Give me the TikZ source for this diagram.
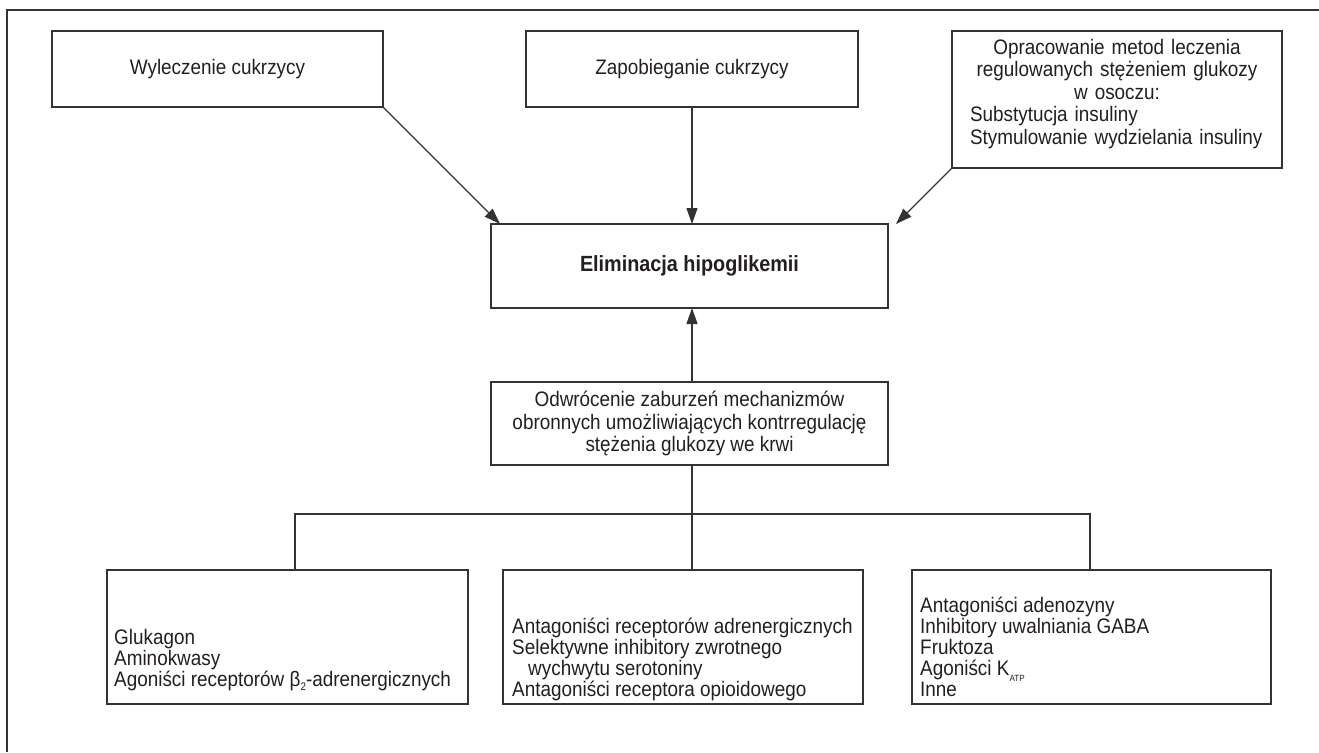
\documentclass[tikz,border=0pt]{standalone}
\usepackage{fontspec}
\setmainfont[FakeStretch=0.9]{Liberation Sans}
\usetikzlibrary{arrows.meta,calc}
\definecolor{linec}{HTML}{333333}
\definecolor{txtc}{HTML}{231F20}
\newcommand{\subsmall}[1]{\raisebox{-4.5pt}{\fontsize{11}{11}\selectfont #1}}
\newcommand{\subtiny}[1]{\raisebox{-5.5pt}{\fontsize{9}{9}\selectfont #1}}
\begin{document}
\begin{tikzpicture}[x=1pt,y=-1pt,
  boxnode/.style={draw=linec,line width=1.2pt,inner sep=0pt,outer sep=0pt,
    font=\fontsize{21}{22.5}\selectfont,text=txtc},
  txt/.style={font=\fontsize{21}{22.5}\selectfont,text=txtc,inner sep=0pt},
  btxt/.style={txt,font=\fontsize{21}{21}\selectfont,align=left,anchor=west},
  conn/.style={draw=linec,line width=1.2pt},
  arr/.style={conn,-{Triangle[length=16pt,width=11pt]}}]
\useasboundingbox (0,0) rectangle (1319,752);
\fill[white] (0,0) rectangle (1319,752);
% frame
\draw[conn] (7,752) -- (7,10) -- (1319,10);
% top boxes
\node[boxnode,minimum width=331pt,minimum height=76pt] (b1) at (217.5,69) {Wyleczenie cukrzycy};
\node[boxnode,minimum width=332pt,minimum height=76pt] (b2) at (692,69) {Zapobieganie cukrzycy};
\node[boxnode,minimum width=330pt,minimum height=137pt] (b3) at (1117,99.5) {};
\node[txt,align=left,text width=294pt] (t3) at (1117,94) {%
\makebox[294pt]{Opracowanie metod leczenia}\\
\makebox[294pt]{regulowanych stężeniem glukozy}\\
\makebox[294pt]{w osoczu:}\\
Substytucja insuliny\\
Stymulowanie wydzielania insuliny};
% central boxes
\node[boxnode,minimum width=397pt,minimum height=84pt,font=\fontsize{22}{22.5}\selectfont\bfseries] (elim) at (689.5,266) {Eliminacja hipoglikemii};
\node[boxnode,minimum width=397pt,minimum height=83pt,align=center] (odw) at (689.5,423.5) {Odwrócenie zaburzeń mechanizmów\\obronnych umożliwiających kontrregulację\\stężenia glukozy we krwi};
% bottom boxes
\node[boxnode,minimum width=361pt,minimum height=134pt] (bA) at (287.5,637) {};
\node[boxnode,minimum width=360pt,minimum height=134pt] (bB) at (683,637) {};
\node[boxnode,minimum width=359pt,minimum height=134pt] (bC) at (1091.5,637) {};
\node[btxt] (tA) at (114,660) {Glukagon\\Aminokwasy\\Agoniści receptorów β\subsmall{2}-adrenergicznych};
\node[btxt] (tB) at (512,659) {Antagoniści receptorów adrenergicznych\\Selektywne inhibitory zwrotnego\\\hspace*{16pt}wychwytu serotoniny\\Antagoniści receptora opioidowego};
\node[btxt] (tC) at (920,647) {Antagoniści adenozyny\\Inhibitory uwalniania GABA\\Fruktoza\\Agoniści K\subtiny{ATP}\\Inne};
% connectors
\coordinate (xm) at (692,0);
\coordinate (j) at (692,514);
\coordinate (jl) at (295,514);
\coordinate (jr) at (1090,514);
\coordinate (tipl) at ($(elim.north west)+(9,0)$);
\coordinate (tipr) at ($(elim.north east)+(8,0)$);
\draw[arr] (b1.south east) -- (tipl);
\draw[arr] (b2.south -| xm) -- (elim.north -| xm);
\draw[arr] (b3.south west) -- (tipr);
\draw[arr] (odw.north -| xm) -- (elim.south -| xm);
\draw[conn] (odw.south -| xm) -- (j);
\draw[conn] (jl |- bA.north) -- (jl) -- (jr) -- (jr |- bC.north);
\draw[conn] (j) -- (j |- bB.north);
\end{tikzpicture}
\end{document}
